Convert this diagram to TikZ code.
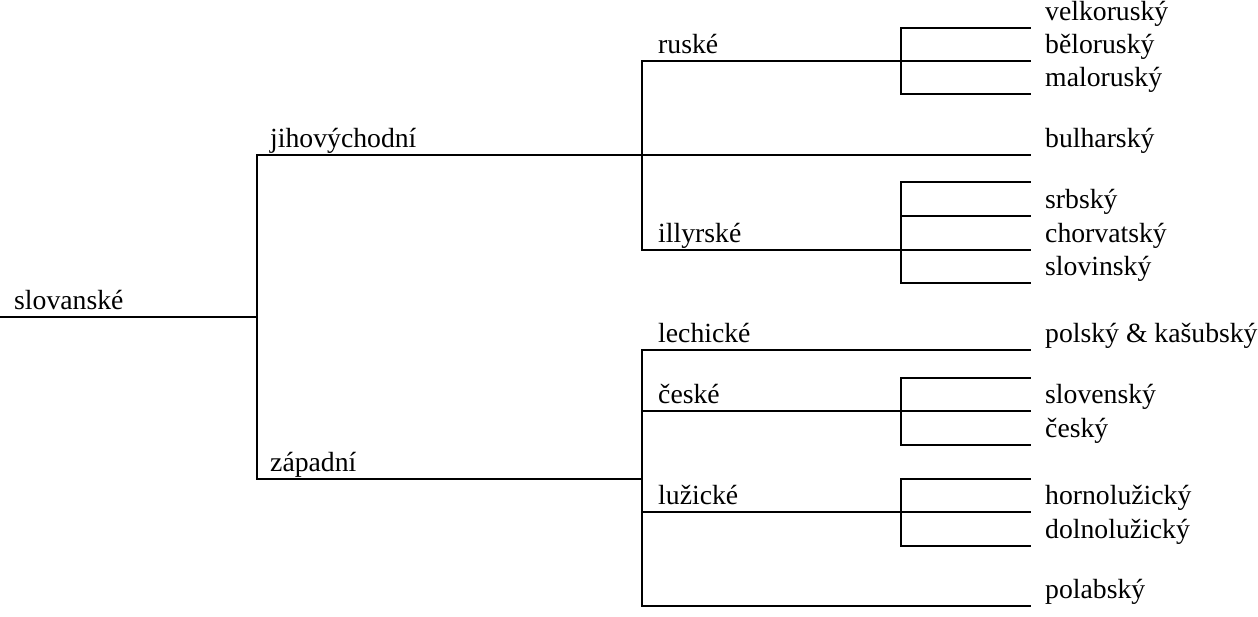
\documentclass[tikz,border=0pt]{standalone}
\usepackage{fontspec}
\setmainfont{Liberation Serif}
\begin{document}
\begin{tikzpicture}[x=1pt,y=-1pt,
  lbl/.style={anchor=base west, inner sep=0pt, font=\fontsize{27.7}{33}\selectfont},
  ln/.style={line width=1.8pt, line cap=rect, line join=miter}]
\useasboundingbox (0,0) rectangle (1258,616);
% coordinates
\coordinate (r0) at (0,317);
\coordinate (r1) at (257,317);
\coordinate (j0) at (257,155);
\coordinate (z0) at (257,479);
\coordinate (z1) at (642,479);
\coordinate (ru0) at (642,61);
\coordinate (il0) at (642,250);
\coordinate (le0) at (642,350);
\coordinate (ce0) at (642,411);
\coordinate (lu0) at (642,512);
\coordinate (po0) at (642,606);
\coordinate (ruB) at (901,61);
\coordinate (ilB) at (901,250);
\coordinate (ceB) at (901,411);
\coordinate (luB) at (901,512);
% leaf ends
\coordinate (e1) at (1030,28);
\coordinate (e2) at (1030,61);
\coordinate (e3) at (1030,94);
\coordinate (e4) at (1030,155);
\coordinate (e5) at (1030,182);
\coordinate (e6) at (1030,216);
\coordinate (e7) at (1030,250);
\coordinate (e8) at (1030,283);
\coordinate (e9) at (1030,350);
\coordinate (e10) at (1030,378);
\coordinate (e11) at (1030,411);
\coordinate (e12) at (1030,445);
\coordinate (e13) at (1030,479);
\coordinate (e14) at (1030,512);
\coordinate (e15) at (1030,546);
\coordinate (e16) at (1030,606);
% labels
\node[lbl] (slov) at (14,309) {slovanské};
\node[lbl] (jih) at (270,147) {jihovýchodní};
\node[lbl] (zap) at (270,471) {západní};
\node[lbl] (rus) at (658,53) {ruské};
\node[lbl] (ill) at (658,242) {illyrské};
\node[lbl] (lech) at (658,342) {lechické};
\node[lbl] (ces) at (658,403) {české};
\node[lbl] (luz) at (658,504) {lužické};
\node[lbl] (l1) at (1045,20) {velkoruský};
\node[lbl] (l2) at (1045,53) {běloruský};
\node[lbl] (l3) at (1045,86) {maloruský};
\node[lbl] (l4) at (1045,147) {bulharský};
\node[lbl] (l5) at (1045,208) {srbský};
\node[lbl] (l6) at (1045,242) {chorvatský};
\node[lbl] (l7) at (1045,275) {slovinský};
\node[lbl] (l8) at (1045,342) {polský \& kašubský};
\node[lbl] (l9) at (1045,403) {slovenský};
\node[lbl] (l10) at (1045,437) {český};
\node[lbl] (l11) at (1045,504) {hornolužický};
\node[lbl] (l12) at (1045,538) {dolnolužický};
\node[lbl] (l13) at (1045,598) {polabský};
% tree lines
\draw[ln] (r0) -- (r1);
\draw[ln] (e4) -- (j0) -- (z0) -- (z1);
\draw[ln] (e2) -- (ru0) -- (il0) -- (e7);
\draw[ln] (e9) -- (le0) -- (po0) -- (e16);
\draw[ln] (ce0) -- (e11);
\draw[ln] (lu0) -- (e14);
\draw[ln] (e1) -| (ruB) |- (e3);
\draw[ln] (e5) -| (ilB) |- (e8);
\draw[ln] (ilB |- e6) -- (e6);
\draw[ln] (e10) -| (ceB) |- (e12);
\draw[ln] (e13) -| (luB) |- (e15);
\end{tikzpicture}
\end{document}
